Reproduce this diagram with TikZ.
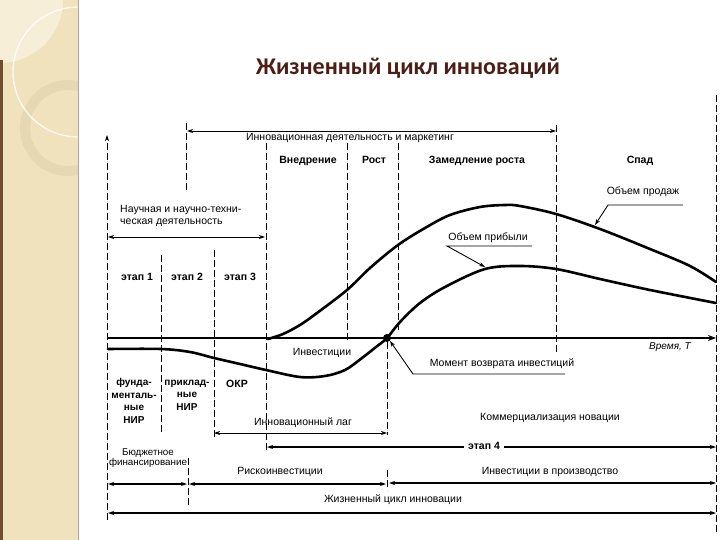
\documentclass[tikz,border=0pt]{standalone}
\usepackage{fontspec}
\setmainfont{Liberation Sans}
\newfontfamily\titlefont{Carlito}
\usetikzlibrary{arrows.meta}
\definecolor{strip}{RGB}{239,226,188}
\definecolor{stripl}{RGB}{246,238,214}
\definecolor{ring}{RGB}{226,213,174}
\definecolor{edge}{RGB}{110,78,45}
\definecolor{titlec}{RGB}{75,30,23}
\begin{document}
\begin{tikzpicture}[x=1pt,y=-1pt,
  lbl/.style={font=\fontsize{10.5}{12}\selectfont, inner sep=0pt},
  blbl/.style={font=\fontsize{10.5}{12}\selectfont\bfseries, inner sep=0pt},
  phase/.style={font=\fontsize{10.5}{12}\selectfont\bfseries, inner sep=0pt, anchor=base},
  stack/.style={font=\fontsize{10}{12.5}\selectfont\bfseries, inner sep=0pt, align=center},
  vdash/.style={line width=0.7pt, dash pattern=on 7pt off 3pt},
  tip/.style={-{Stealth[length=6pt,width=4pt]}},
  dtip/.style={{Stealth[length=6pt,width=4pt]}-{Stealth[length=6pt,width=4pt]}},
  thinarr/.style={line width=0.9pt},
  medarr/.style={line width=1.4pt},
  curveline/.style={line width=2.6pt, line join=round, line cap=round},
  leader/.style={line width=0.9pt}
]
\useasboundingbox (0,0) rectangle (720,540);
% decorative strip
\fill[white] (0,0) rectangle (720,540);
\begin{scope}
\clip (0,0) rectangle (78,540);
\fill[strip] (0,0) rectangle (78,540);
\fill[stripl] (0,0) circle (63);
\draw[ring, line width=10pt, opacity=0.7] (68,128) circle (43);
\draw[white, line width=1.4pt, opacity=0.8] (78,72) circle (65);
\fill[edge] (0,60) rectangle (2.5,540);
\end{scope}
\draw[ring!80!black, line width=0.6pt] (78,0) -- (78,540);

% title
\node[font=\titlefont\fontsize{24}{28}\selectfont\bfseries, text=titlec, inner sep=0pt] (title) at (408,68) {Жизненный цикл инноваций};

% coordinates
\coordinate (yTop) at (107,135);
\coordinate (yBot) at (107,520);
\coordinate (xL) at (108,338);
\coordinate (xR) at (716,338);

% vertical dashed lines
\draw[vdash] (716,95) -- (716,535);
\draw[vdash] (556,125) -- (556,355);
\draw[vdash] (186,123) -- (186,192);
\draw[vdash] (266,143) -- (266,452);
\draw[vdash] (347,143) -- (347,340);
\draw[vdash] (398,143) -- (398,332);
\draw[vdash] (387,342) -- (387,435);
\draw[vdash] (387,470) -- (387,490);
\draw[vdash] (161,255) -- (161,432);
\draw[vdash] (214,250) -- (214,438);
\draw[vdash] (188,458) -- (188,505);
% left axis
\draw[vdash, tip] (yBot) -- (yTop);

% top arrow
\coordinate (tA) at (187,131);
\coordinate (tB) at (556,131);
\draw[thinarr, dtip] (tA) -- (tB);
\node[lbl] (innov) at (350,138) {Инновационная деятельность и маркетинг};

% phases
\node[phase] (vn) at (308,164) {Внедрение};
\node[phase] (rost) at (374,164) {Рост};
\node[phase] (zam) at (477,164) {Замедление роста};
\node[phase] (spad) at (640,164) {Спад};

% science
\node[lbl, anchor=west, align=left, font=\fontsize{10.5}{12.5}\selectfont] (sci) at (120,216) {Научная и научно-техни-\\ческая деятельность};
\coordinate (sA) at (108,237);
\coordinate (sB) at (265,237);
\draw[thinarr, dtip] (sA) -- (sB);

% stages
\node[phase] (e1) at (137,280) {этап 1};
\node[phase] (e2) at (187,280) {этап 2};
\node[phase] (e3) at (240,280) {этап 3};

% axis
\draw[line width=2.4pt, -{Stealth[length=8pt,width=6pt]}] (xL) -- (xR);
\node[lbl, font=\fontsize{10}{11}\selectfont\itshape] (time) at (670,347) {Время, T};

% sales curve
\draw[curveline] plot[smooth, tension=0.55] coordinates {(268,339) (283,334) (300,325) (317,313) (347,290) (370,268) (398,245) (425,228) (450,215) (480,207) (505,205) (520,206) (556,214) (600,229) (650,249) (690,266) (716,282)};
% profit curve
\draw[curveline] plot[smooth, tension=0.55] coordinates {(108,349) (161,349) (190,352) (214,358) (240,364) (266,370) (300,377) (325,376) (345,370) (362,358) (376,347) (387,338) (400,322) (420,303) (445,287) (485,269) (520,266) (556,269) (600,279) (650,290) (716,303)};

% return point
\node[circle, fill=black, inner sep=0pt, minimum size=8pt] (ret) at (387,338) {};

% Объем продаж
\node[lbl] (sales) at (643,192) {Объем продаж};
\coordinate (sU1) at (683,205);
\coordinate (sU2) at (608,205);
\coordinate (sT) at (595,225);
\draw[leader, tip] (sU1) -- (sU2) -- (sT);
% Объем прибыли
\node[lbl] (profit) at (488,238) {Объем прибыли};
\coordinate (pU1) at (532,246);
\coordinate (pU2) at (447,246);
\coordinate (pT) at (485,267);
\draw[leader, tip] (pU1) -- (pU2) -- (pT);

% Инвестиции / Момент возврата
\node[lbl] (inv) at (322,353) {Инвестиции};
\node[lbl] (moment) at (502,364) {Момент возврата инвестиций};
\coordinate (mU1) at (565,374);
\coordinate (mU2) at (413,374);
\draw[leader, tip] (mU1) -- (mU2) -- (ret.south east);

% bottom left labels
\node[stack] (fund) at (134,401) {фунда-\\менталь-\\ные\\НИР};
\node[stack] (prik) at (187,395) {приклад-\\ные\\НИР};
\node[phase] (okr) at (237,387) {ОКР};

% Инновационный лаг
\node[lbl] (lag) at (303,423) {Инновационный лаг};
\coordinate (lA) at (214,433);
\coordinate (lB) at (387,433);
\draw[thinarr, dtip] (lA) -- (lB);

% Коммерциализация
\node[lbl] (comm) at (550,418) {Коммерциализация новации};
\coordinate (cA) at (267,447);
\coordinate (cB) at (716,447);
\draw[medarr, dtip] (cA) -- (cB);
\node[blbl, fill=white, inner xsep=4pt, inner ysep=1pt] (e4) at (484,446) {этап 4};

% Бюджетное
\node[lbl, align=center, font=\fontsize{9.8}{10.5}\selectfont] (budg) at (148,458) {Бюджетное\\финансирование};
\coordinate (bA) at (108,484);
\coordinate (bB) at (187,484);
\draw[medarr, dtip] (bA) -- (bB);
% Рискоинвестиции
\node[lbl] (risk) at (280,472) {Рискоинвестиции};
\coordinate (rA) at (189,484);
\coordinate (rB) at (386,484);
\draw[medarr, dtip] (rA) -- (rB);
% Инвестиции в производство
\node[lbl] (prod) at (550,472) {Инвестиции в производство};
\coordinate (iA) at (389,483);
\coordinate (iB) at (716,483);
\draw[medarr, dtip] (iA) -- (iB);
% Жизненный цикл
\node[lbl] (life) at (393,500) {Жизненный цикл инновации};
\coordinate (jA) at (108,513);
\coordinate (jB) at (716,513);
\draw[medarr, dtip] (jA) -- (jB);
\end{tikzpicture}
\end{document}
